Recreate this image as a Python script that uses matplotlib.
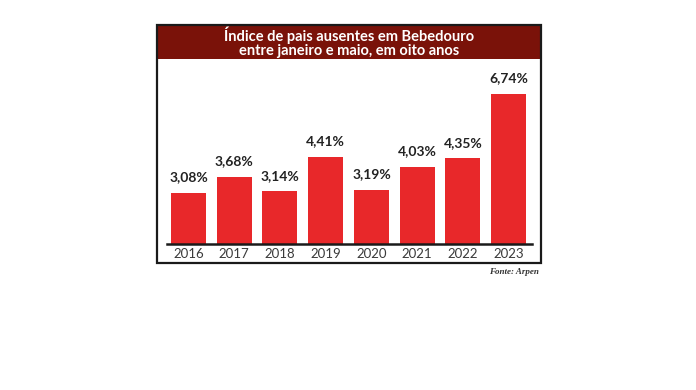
import matplotlib.pyplot as plt
from matplotlib.patches import Rectangle

years = ["2016", "2017", "2018", "2019", "2020", "2021", "2022", "2023"]
values = [3.08, 3.68, 3.14, 4.41, 3.19, 4.03, 4.35, 6.74]
labels = ["3,08%", "3,68%", "3,14%", "4,41%", "3,19%", "4,03%", "4,35%", "6,74%"]

fam = ["Lato", "DejaVu Sans"]

W, H = 696, 390
fig = plt.figure(figsize=(W / 100, H / 100), dpi=100)
fig.patch.set_facecolor("white")


def fx(px):
    return px / W


def fy(py):
    return 1 - py / H


# outer frame and title band
fig.patches.append(Rectangle((fx(157), fy(263)), fx(384), 238 / H, fill=False,
                             edgecolor="#1a1a1a", linewidth=1.6,
                             transform=fig.transFigure, zorder=5))
fig.patches.append(Rectangle((fx(157), fy(59)), fx(384), 34 / H,
                             facecolor="#7a1209", edgecolor="none",
                             transform=fig.transFigure, zorder=4))
fig.text(fx(349), fy(42), "Índice de pais ausentes em Bebedouro\nentre janeiro e maio, em oito anos",
         ha="center", va="center", color="white", fontsize=10.5, fontweight="bold",
         family=fam, linespacing=1.0, zorder=6)

ax = fig.add_axes([fx(167), fy(244), fx(365), (244 - 62) / H])
x = list(range(len(years)))
ax.bar(x, values, width=0.765, color="#e8282a")
ax.set_xlim(-0.47, 7.51)
ax.set_ylim(1.2, 7.9)
ax.set_xticks(x)
ax.set_xticklabels(years, fontsize=9.5, color="#3a3a3a", family=fam)
ax.tick_params(axis="x", length=0, pad=3)
ax.set_yticks([])
for s in ["top", "right", "left"]:
    ax.spines[s].set_visible(False)
ax.spines["bottom"].set_linewidth(1.8)
ax.spines["bottom"].set_color("#1a1a1a")

for xi, v, lab in zip(x, values, labels):
    ax.annotate(lab, (xi, v), xytext=(0, 7), textcoords="offset points",
                ha="center", va="bottom", fontsize=10, fontweight="bold",
                family=fam, color="#222222")

fig.text(fx(539), fy(272), "Fonte: Arpen", ha="right", va="center",
         fontsize=6.5, fontstyle="italic", fontweight="bold",
         family="Liberation Serif", color="#333333")

fig.savefig("out.png", dpi=100)
